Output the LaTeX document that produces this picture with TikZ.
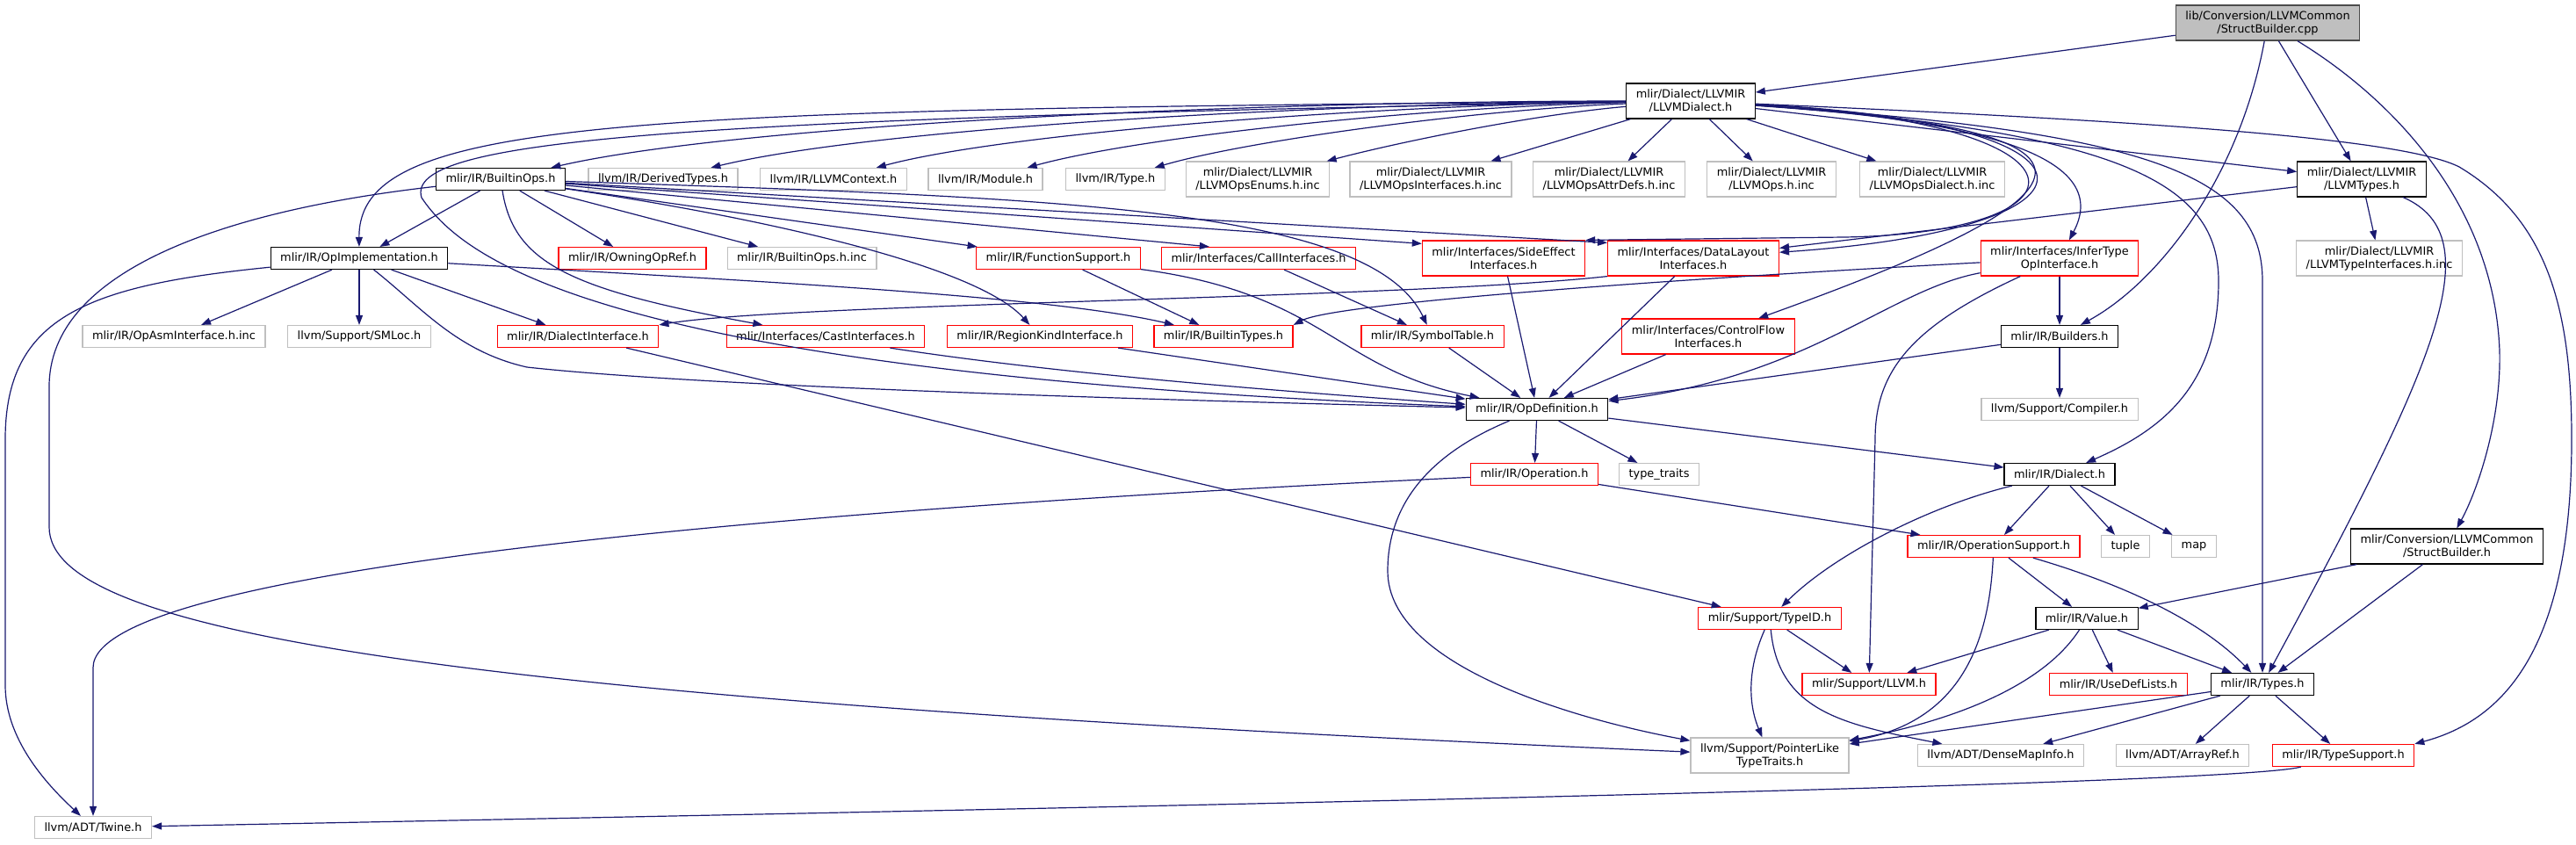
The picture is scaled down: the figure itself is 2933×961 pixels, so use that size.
\documentclass[tikz,border=0pt]{standalone}
\usepackage{fontspec}
\setmainfont{DejaVu Sans}
\usetikzlibrary{arrows.meta}
\definecolor{EdgeBlue}{HTML}{191970}
\definecolor{FileGray}{HTML}{BFBFBF}

\begin{document}
\begin{tikzpicture}[x=1pt, y=-1pt,
  file/.style={draw, fill=white, line width=1.2pt, inner xsep=11pt, inner ysep=0pt, minimum height=25pt, align=center, font=\fontsize{12.9}{15}\selectfont},
  plainfile/.style={file, draw=FileGray},
  redfile/.style={file, draw=red},
  docfile/.style={file, draw=black},
  rootfile/.style={file, draw=black!70, fill=FileGray},
  tall/.style={minimum height=40pt},
  dep/.style={draw=EdgeBlue, line width=1.2pt, -{Triangle[length=11pt,width=8pt]}}]
\path[use as bounding box, fill=white] (0,0) rectangle (2933,961);

% files, row by row
\node[rootfile, tall] (cpp) at (2582,26) {lib/Conversion/LLVMCommon\\/StructBuilder.cpp};
\node[docfile, tall] (llvmdialect) at (1925,115) {mlir/Dialect/LLVMIR\\/LLVMDialect.h};

\node[docfile] (builtinops) at (570,204) {mlir/IR/BuiltinOps.h};
\node[plainfile] (derivedtypes) at (755,204) {llvm/IR/DerivedTypes.h};
\node[plainfile] (llvmcontext) at (949,204) {llvm/IR/LLVMContext.h};
\node[plainfile] (module) at (1122,204) {llvm/IR/Module.h};
\node[plainfile] (irtype) at (1270,204) {llvm/IR/Type.h};
\node[plainfile, tall] (opsenums) at (1432,204) {mlir/Dialect/LLVMIR\\/LLVMOpsEnums.h.inc};
\node[plainfile, tall] (opsintf) at (1629,204) {mlir/Dialect/LLVMIR\\/LLVMOpsInterfaces.h.inc};
\node[plainfile, tall] (opsattr) at (1832,204) {mlir/Dialect/LLVMIR\\/LLVMOpsAttrDefs.h.inc};
\node[plainfile, tall] (opsinc) at (2017,204) {mlir/Dialect/LLVMIR\\/LLVMOps.h.inc};
\node[plainfile, tall] (opsdialect) at (2200,204) {mlir/Dialect/LLVMIR\\/LLVMOpsDialect.h.inc};
\node[docfile, tall] (llvmtypes) at (2689,204) {mlir/Dialect/LLVMIR\\/LLVMTypes.h};

\node[docfile] (opimpl) at (409,294) {mlir/IR/OpImplementation.h};
\node[redfile] (owningopref) at (720,294) {mlir/IR/OwningOpRef.h};
\node[plainfile] (builtinopsinc) at (913,294) {mlir/IR/BuiltinOps.h.inc};
\node[redfile] (funcsupport) at (1205,294) {mlir/IR/FunctionSupport.h};
\node[redfile] (callintf) at (1433,294) {mlir/Interfaces/CallInterfaces.h};
\node[redfile, tall] (sideeffect) at (1712,294) {mlir/Interfaces/SideEffect\\Interfaces.h};
\node[redfile, tall] (datalayout) at (1928,294) {mlir/Interfaces/DataLayout\\Interfaces.h};
\node[redfile, tall] (infertype) at (2345,294) {mlir/Interfaces/InferType\\OpInterface.h};
\node[plainfile, tall] (typeintf) at (2709,294) {mlir/Dialect/LLVMIR\\/LLVMTypeInterfaces.h.inc};

\node[plainfile] (opasm) at (198,383) {mlir/IR/OpAsmInterface.h.inc};
\node[plainfile] (smloc) at (409,383) {llvm/Support/SMLoc.h};
\node[redfile] (dialectintf) at (658,383) {mlir/IR/DialectInterface.h};
\node[redfile] (castintf) at (940,383) {mlir/Interfaces/CastInterfaces.h};
\node[redfile] (regionkind) at (1184,383) {mlir/IR/RegionKindInterface.h};
\node[redfile] (builtintypes) at (1393,383) {mlir/IR/BuiltinTypes.h};
\node[redfile] (symboltable) at (1631,383) {mlir/IR/SymbolTable.h};
\node[redfile, tall] (controlflow) at (1945,383) {mlir/Interfaces/ControlFlow\\Interfaces.h};
\node[docfile] (builders) at (2345,383) {mlir/IR/Builders.h};

\node[docfile] (opdef) at (1750,466) {mlir/IR/OpDefinition.h};
\node[plainfile] (compiler) at (2345,466) {llvm/Support/Compiler.h};

\node[redfile] (operation) at (1747,540) {mlir/IR/Operation.h};
\node[plainfile] (typetraits) at (1889,540) {type\_traits};
\node[docfile] (dialect) at (2345,540) {mlir/IR/Dialect.h};

\node[redfile] (opsupport) at (2270,622) {mlir/IR/OperationSupport.h};
\node[plainfile] (tuple) at (2420,622) {tuple};
\node[plainfile] (map) at (2498,622) {map};
\node[docfile, tall] (structh) at (2786,622) {mlir/Conversion/LLVMCommon\\/StructBuilder.h};

\node[redfile] (typeid) at (2015,704) {mlir/Support/TypeID.h};
\node[docfile] (value) at (2376,704) {mlir/IR/Value.h};

\node[redfile] (llvmh) at (2128,779) {mlir/Support/LLVM.h};
\node[redfile] (usedef) at (2412,779) {mlir/IR/UseDefLists.h};
\node[docfile] (types) at (2576,779) {mlir/IR/Types.h};

\node[plainfile, tall] (pointerlike) at (2015,860) {llvm/Support/PointerLike\\TypeTraits.h};
\node[plainfile] (densemap) at (2278,860) {llvm/ADT/DenseMapInfo.h};
\node[plainfile] (arrayref) at (2485,860) {llvm/ADT/ArrayRef.h};
\node[redfile] (typesupport) at (2668,860) {mlir/IR/TypeSupport.h};

\node[plainfile] (twine) at (106,942) {llvm/ADT/Twine.h};

% straight includes
\foreach \a/\b in {cpp/llvmdialect, cpp/llvmtypes, llvmdialect/opsintf, llvmdialect/opsattr, llvmdialect/opsinc,
    llvmdialect/opsdialect, llvmdialect/llvmtypes, builtinops/opimpl, builtinops/owningopref,
    builtinops/builtinopsinc, builtinops/funcsupport, opimpl/opasm, opimpl/smloc,
    opimpl/dialectintf, dialectintf/typeid, regionkind/opdef, funcsupport/builtintypes,
    callintf/symboltable, symboltable/opdef, sideeffect/opdef, datalayout/opdef,
    controlflow/opdef, infertype/builders, builders/opdef, builders/compiler,
    llvmtypes/datalayout, llvmtypes/typeintf, opdef/operation, opdef/typetraits, opdef/dialect,
    operation/opsupport, dialect/opsupport, dialect/tuple, dialect/map, opsupport/value,
    typeid/llvmh, value/llvmh, value/usedef, value/types, structh/value, structh/types,
    types/pointerlike, types/densemap, types/arrayref, types/typesupport}
  \draw[dep] (\a) -- (\b);

% LLVMDialect.h fanning out to the left
\foreach \b/\ca/\cb in {builtinops/{1450,115}/{850,140}, derivedtypes/{1500,118}/{1000,145},
    llvmcontext/{1570,120}/{1150,150}, module/{1620,122}/{1300,155},
    irtype/{1680,125}/{1420,160}, opsenums/{1750,130}/{1600,160}}
  \draw[dep] (llvmdialect) .. controls (\ca) and (\cb) .. (\b);
\draw[dep] (llvmdialect) .. controls (700,125) and (408,135) .. (opimpl);
\draw[dep] (llvmdialect) .. controls (750,135) and (460,160) .. (480,225)
  .. controls (530,300) and (700,425) .. (opdef);

% LLVMDialect.h to the right
\draw[dep] (llvmdialect) .. controls (2400,140) and (2390,265) .. (2100,270) -- (sideeffect.north east);
\draw[dep] (llvmdialect) .. controls (2420,140) and (2420,260) .. (datalayout);
\draw[dep] (llvmdialect) .. controls (2470,150) and (2370,230) .. (controlflow);
\draw[dep] (llvmdialect) .. controls (2300,140) and (2400,190) .. (infertype);
\draw[dep] (llvmdialect) .. controls (2420,150) and (2526,210) .. (2526,320)
  .. controls (2526,440) and (2460,490) .. (dialect);
\draw[dep] (llvmdialect) .. controls (2450,150) and (2576,200) .. (2576,320) -- (types);
\draw[dep] (llvmdialect) .. controls (2500,140) and (2740,160) .. (2800,190)
  .. controls (2900,250) and (2928,350) .. (2928,500)
  .. controls (2928,740) and (2850,820) .. (typesupport.north east);

% StructBuilder.cpp
\draw[dep] (cpp) .. controls (2550,200) and (2460,320) .. (builders);
\draw[dep] (cpp) .. controls (2720,110) and (2840,230) .. (2846,400)
  .. controls (2848,480) and (2820,560) .. (structh);

% BuiltinOps.h
\draw[dep] (builtinops) -- ([xshift=55pt]callintf.north west);
\draw[dep] (builtinops) -- ([yshift=-4pt]sideeffect.north west);
\draw[dep] (builtinops) -- ([yshift=-3pt]datalayout.north west);
\draw[dep] (builtinops) .. controls (585,300) and (650,330) .. (castintf);
\draw[dep] (builtinops) .. controls (850,245) and (1110,300) .. (regionkind);
\draw[dep] (builtinops) .. controls (1200,225) and (1560,235) .. (symboltable);
\draw[dep] (builtinops) .. controls (250,240) and (56,310) .. (56,440) -- (56,600)
  .. controls (56,720) and (500,795) .. (pointerlike);

% OpImplementation.h
\draw[dep] (opimpl) .. controls (900,322) and (1200,338) .. (builtintypes);
\draw[dep] (opimpl) .. controls (480,350) and (520,400) .. (600,418)
  .. controls (800,440) and (1300,455) .. (opdef);
\draw[dep] (opimpl) .. controls (100,325) and (6,360) .. (6,500) -- (6,780)
  .. controls (6,840) and (50,890) .. (twine);

% interfaces down to OpDefinition.h
\draw[dep] ([xshift=-40pt]castintf.south east) .. controls (1200,425) and (1450,445) .. (opdef);
\draw[dep] (funcsupport) .. controls (1510,335) and (1520,420) .. (opdef);
\draw[dep] (datalayout.south west) .. controls (1600,340) and (900,345) .. (dialectintf.north east);
\draw[dep] (infertype) .. controls (1900,318) and (1520,345) .. (builtintypes.north east);
\draw[dep] (infertype) .. controls (2150,330) and (2060,430) .. (opdef);
\draw[dep] (infertype) .. controls (2180,370) and (2135,420) .. (2135,500) -- (llvmh);
\draw[dep] (llvmtypes) .. controls (2840,270) and (2770,420) .. (types);

% lower part
\draw[dep] (opdef) .. controls (1620,520) and (1580,580) .. (1580,650)
  .. controls (1580,760) and (1800,820) .. (pointerlike);
\draw[dep] (operation) .. controls (1000,575) and (106,640) .. (106,760) -- (twine);
\draw[dep] (dialect) .. controls (2200,575) and (2090,630) .. (typeid);
\draw[dep] (opsupport) .. controls (2400,660) and (2500,700) .. (types);
\draw[dep] (opsupport) .. controls (2265,720) and (2240,820) .. (pointerlike);
\draw[dep] (value) .. controls (2320,790) and (2200,825) .. (pointerlike);
\draw[dep] (typeid) .. controls (1990,760) and (1990,800) .. (pointerlike);
\draw[dep] (typeid) .. controls (2025,810) and (2100,825) .. (densemap);
\draw[dep] (typesupport) .. controls (2550,892) and (1500,915) .. (twine);
\end{tikzpicture}
\end{document}
